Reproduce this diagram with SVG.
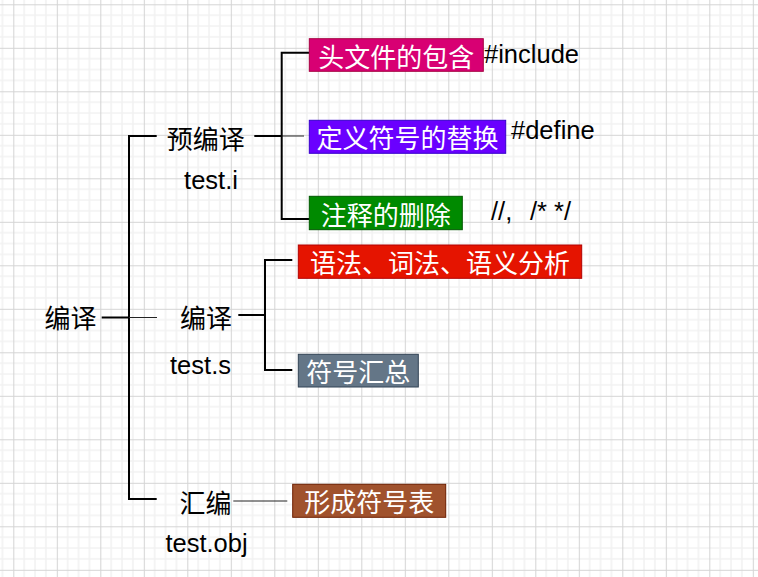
<svg xmlns="http://www.w3.org/2000/svg" width="758" height="577" viewBox="0 0 758 577">
  <defs>
    <pattern id="grid" patternUnits="userSpaceOnUse" x="13.3" y="4.3" width="43.5" height="43.5">
      <rect width="43.5" height="43.5" fill="#ffffff"/>
      <g stroke="#f2f2f2" stroke-width="1.6">
        <line x1="10.875" y1="0" x2="10.875" y2="43.5"/>
        <line x1="21.75" y1="0" x2="21.75" y2="43.5"/>
        <line x1="32.625" y1="0" x2="32.625" y2="43.5"/>
        <line x1="0" y1="10.875" x2="43.5" y2="10.875"/>
        <line x1="0" y1="21.75" x2="43.5" y2="21.75"/>
        <line x1="0" y1="32.625" x2="43.5" y2="32.625"/>
      </g>
      <g stroke="#d4d4d4" stroke-width="1">
        <line x1="0.5" y1="0" x2="0.5" y2="43.5"/>
        <line x1="0" y1="0.5" x2="43.5" y2="0.5"/>
      </g>
    </pattern>
  </defs>
  <style>
    .cjk { font-family: "Noto Sans CJK SC", "Noto Sans", sans-serif; font-size: 26px; dominant-baseline: central; text-anchor: middle; }
    .lat { font-family: "Liberation Sans", Arial, sans-serif; font-size: 25.5px; }
    .dark { fill: #000000; }
    .light { fill: #ffffff; }
    .thick { stroke: #000000; stroke-width: 2; fill: none; }
    .thin { stroke: #222222; stroke-width: 1; fill: none; }
    .box { stroke-width: 1; }
  </style>
  <rect x="0" y="0" width="758" height="577" fill="url(#grid)"/>

  <g id="connectors">
    <polyline class="thick" points="156.7,136 129,136 129,499 156.7,499"/>
    <line class="thick" x1="101.7" y1="317.5" x2="129" y2="317.5"/>
    <line class="thin" x1="129" y1="317.5" x2="157" y2="317.5"/>
    <line class="thick" x1="254.3" y1="136" x2="281.7" y2="136"/>
    <line class="thin" x1="281.7" y1="136" x2="304" y2="136"/>
    <polyline class="thick" points="309.3,52.7 281.7,52.7 281.7,219 309.3,219"/>
    <line class="thick" x1="238.3" y1="315" x2="265" y2="315"/>
    <polyline class="thick" points="292.3,260 265,260 265,370 292.3,370"/>
    <line class="thin" x1="233.3" y1="501" x2="287.3" y2="501"/>
  </g>

  <g id="root">
    <text class="cjk dark" x="70.5" y="316">编译</text>
  </g>

  <g id="preprocess">
    <text class="cjk dark" x="205.7" y="137">预编译</text>
    <text class="lat dark" x="211" y="189" text-anchor="middle">test.i</text>
  </g>

  <g id="compile">
    <text class="cjk dark" x="206" y="316">编译</text>
    <text class="lat dark" x="200.5" y="374" text-anchor="middle">test.s</text>
  </g>

  <g id="assemble">
    <text class="cjk dark" x="205.5" y="501">汇编</text>
    <text class="lat dark" x="206.5" y="552" text-anchor="middle">test.obj</text>
  </g>

  <g id="include-box">
    <rect class="box" x="309.3" y="38.7" width="174" height="32.6" fill="#d80073" stroke="#a50040"/>
    <text class="cjk light" x="396.3" y="55">头文件的包含</text>
    <text class="lat dark" x="484" y="63">#include</text>
  </g>

  <g id="define-box">
    <rect class="box" x="309.3" y="120.3" width="196.4" height="33" fill="#6a00ff" stroke="#3700cc"/>
    <text class="cjk light" x="407.5" y="136.8">定义符号的替换</text>
    <text class="lat dark" x="511" y="139">#define</text>
  </g>

  <g id="comment-box">
    <rect class="box" x="309.3" y="196.3" width="153" height="33.4" fill="#008a00" stroke="#005700"/>
    <text class="cjk light" x="385.8" y="213">注释的删除</text>
    <text class="lat dark" x="491" y="220">//,<tspan x="530">/* */</tspan></text>
  </g>

  <g id="analysis-box">
    <rect class="box" x="298.3" y="245" width="283.4" height="33.3" fill="#e51400" stroke="#b20000"/>
    <text class="cjk light" x="440" y="261.7">语法、词法、语义分析</text>
  </g>

  <g id="summary-box">
    <rect class="box" x="298.3" y="354.3" width="120" height="32.7" fill="#647687" stroke="#314354"/>
    <text class="cjk light" x="358.3" y="370.7">符号汇总</text>
  </g>

  <g id="symtable-box">
    <rect class="box" x="292.7" y="484.3" width="153" height="33" fill="#a0522d" stroke="#6d1f00"/>
    <text class="cjk light" x="369.2" y="500.8">形成符号表</text>
  </g>
</svg>
